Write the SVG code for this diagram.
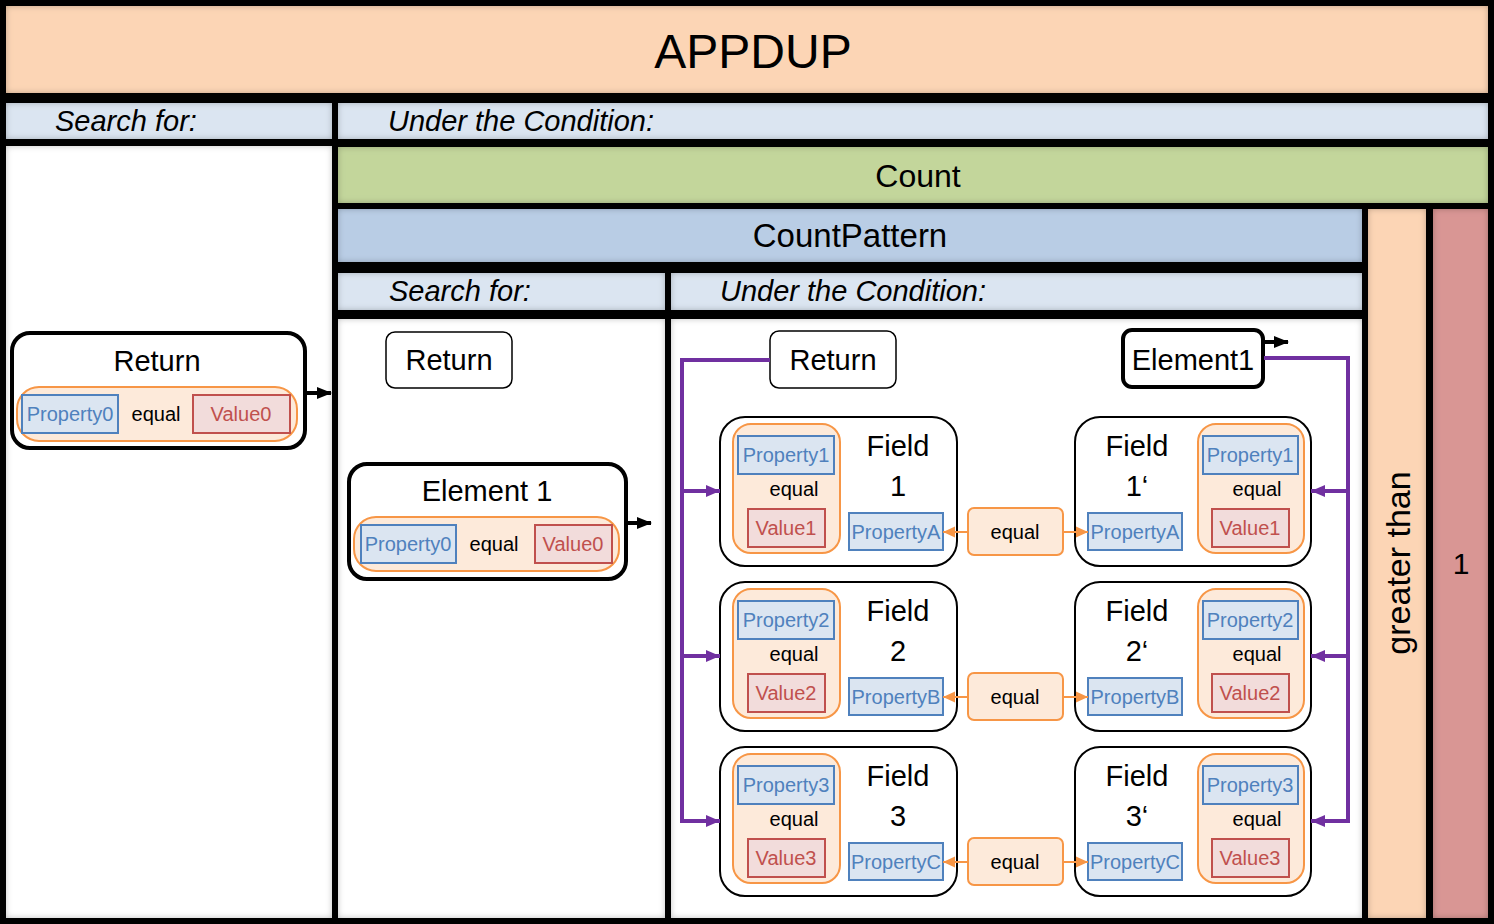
<svg xmlns="http://www.w3.org/2000/svg" width="1494" height="924" viewBox="0 0 1494 924">
<defs>
<filter id="inset" x="-50%" y="-50%" width="200%" height="200%">
<feFlood flood-color="#000" flood-opacity="0.5" result="f"/>
<feComposite in="f" in2="SourceAlpha" operator="out" result="o"/>
<feGaussianBlur in="o" stdDeviation="3" result="b"/>
<feComposite in="b" in2="SourceAlpha" operator="in" result="s"/>
<feMerge><feMergeNode in="SourceGraphic"/><feMergeNode in="s"/></feMerge>
</filter>
<marker id="ab" markerUnits="userSpaceOnUse" markerWidth="16" markerHeight="16" refX="14" refY="8" orient="auto"><path d="M0,2 L15,8 L0,14 Z" fill="#000"/></marker>
<marker id="ap" markerUnits="userSpaceOnUse" markerWidth="16" markerHeight="16" refX="14" refY="8" orient="auto"><path d="M0,2 L14,8 L0,14 Z" fill="#7030A0"/></marker>
<marker id="ao" markerUnits="userSpaceOnUse" markerWidth="14" markerHeight="14" refX="12" refY="7" orient="auto"><path d="M0,1.5 L12,7 L0,12.5 Z" fill="#F79646"/></marker>
</defs>
<style>
text{font-family:"Liberation Sans",Arial,sans-serif;fill:#000}
.pnl{filter:url(#inset)}
.it{font-style:italic;font-size:29px}
.t29{font-size:29px}
.t20{font-size:20px}
.c{text-anchor:middle}
.pill{fill:#FDEADA;stroke:#F79646;stroke-width:2}
.pb{fill:#DBE5F1;stroke:#4F81BD;stroke-width:2}
.vb{fill:#F2DCDB;stroke:#C0504D;stroke-width:2}
.pt{fill:#4F81BD;font-size:20px;text-anchor:middle}
.vt{fill:#C0504D;font-size:20px;text-anchor:middle}
.fb{fill:#fff;stroke:#000;stroke-width:2}
.pur{fill:none;stroke:#7030A0;stroke-width:4}
.blk{fill:none;stroke:#000;stroke-width:4}
.org{fill:none;stroke:#F79646;stroke-width:2}
</style>
<rect x="0" y="0" width="1494" height="924" fill="#000"/>

<g id="panels">
<rect class="pnl" x="6" y="6" width="1482" height="87" fill="#FCD5B5"/>
<rect class="pnl" x="6" y="103" width="326" height="36" fill="#DBE5F1"/>
<rect class="pnl" x="338" y="103" width="1150" height="36" fill="#DBE5F1"/>
<rect class="pnl" x="6" y="146" width="326" height="772" fill="#FFFFFF"/>
<rect class="pnl" x="338" y="147" width="1150" height="56" fill="#C3D69B"/>
<rect class="pnl" x="338" y="209" width="1024" height="53" fill="#B9CDE5"/>
<rect class="pnl" x="1368" y="209" width="58" height="709" fill="#FCD5B5"/>
<rect class="pnl" x="1433" y="209" width="55" height="709" fill="#D99694"/>
<rect class="pnl" x="338" y="273" width="327" height="37" fill="#DBE5F1"/>
<rect class="pnl" x="671" y="273" width="691" height="37" fill="#DBE5F1"/>
<rect class="pnl" x="338" y="319" width="327" height="599" fill="#FFFFFF"/>
<rect class="pnl" x="671" y="319" width="691" height="599" fill="#FFFFFF"/>
</g>

<g id="labels">
<text x="753" y="68" class="c" style="font-size:48px">APPDUP</text>
<text x="55" y="131" class="it">Search for:</text>
<text x="388" y="131" class="it">Under the Condition:</text>
<text x="918" y="187" class="c" style="font-size:32px">Count</text>
<text x="850" y="247" class="c" style="font-size:33px">CountPattern</text>
<text x="389" y="301" class="it">Search for:</text>
<text x="720" y="301" class="it">Under the Condition:</text>
<text transform="translate(1410,563) rotate(-90)" x="0" y="0" class="c" style="font-size:34px">greater than</text>
<text x="1461" y="574" class="c" style="font-size:30px">1</text>
</g>

<g id="return-outer">
<rect x="12" y="333" width="293" height="115" rx="18" fill="#fff" stroke="#000" stroke-width="4"/>
<text x="157" y="371" class="t29 c">Return</text>
<rect x="17" y="387" width="280" height="54" rx="22" class="pill"/>
<rect x="22" y="395" width="96" height="38" class="pb"/>
<text x="70" y="421" class="pt">Property0</text>
<text x="156" y="421" class="t20 c">equal</text>
<rect x="193" y="395" width="97" height="38" class="vb"/>
<text x="241" y="421" class="vt">Value0</text>
</g>

<g id="return-mid">
<rect x="386" y="332" width="126" height="56" rx="9" fill="#fff" stroke="#000" stroke-width="1.5"/>
<text x="449" y="370" class="t29 c">Return</text>
</g>

<g id="element1-mid">
<rect x="349" y="464" width="277" height="115" rx="18" fill="#fff" stroke="#000" stroke-width="4"/>
<text x="487" y="501" class="t29 c">Element 1</text>
<rect x="354" y="517" width="265" height="54" rx="22" class="pill"/>
<rect x="361" y="525" width="95" height="38" class="pb"/>
<text x="408" y="551" class="pt">Property0</text>
<text x="494" y="551" class="t20 c">equal</text>
<rect x="535" y="525" width="77" height="38" class="vb"/>
<text x="573" y="551" class="vt">Value0</text>
</g>

<g id="return-inner">
<rect x="770" y="331" width="126" height="57" rx="9" fill="#fff" stroke="#000" stroke-width="1.5"/>
<text x="833" y="370" class="t29 c">Return</text>
</g>

<g id="element1-inner">
<rect x="1123" y="330" width="140" height="57" rx="9" fill="#fff" stroke="#000" stroke-width="4"/>
<text x="1193" y="370" class="t29 c">Element1</text>
</g>

<g id="field1">
<rect x="720" y="417" width="237" height="149" rx="25" class="fb"/>
<rect x="733" y="424" width="107" height="129" rx="18" class="pill"/>
<rect x="738" y="436" width="96" height="38" class="pb"/>
<text x="786" y="462" class="pt">Property1</text>
<text x="794" y="496" class="t20 c">equal</text>
<rect x="748" y="509" width="77" height="38" class="vb"/>
<text x="786" y="535" class="vt">Value1</text>
<text x="898" y="456" class="t29 c">Field</text>
<text x="898" y="496" class="t29 c">1</text>
<rect x="849" y="513" width="94" height="37" class="pb"/>
<text x="896" y="539" class="pt">PropertyA</text>
</g>
<g id="equal1">
<rect x="968" y="508" width="95" height="47" rx="6" class="pill"/>
<text x="1015" y="539" class="t20 c">equal</text>
</g>
<g id="field1p">
<rect x="1075" y="417" width="236" height="149" rx="25" class="fb"/>
<text x="1137" y="456" class="t29 c">Field</text>
<text x="1137" y="496" class="t29 c">1‘</text>
<rect x="1088" y="513" width="94" height="37" class="pb"/>
<text x="1135" y="539" class="pt">PropertyA</text>
<rect x="1198" y="424" width="106" height="129" rx="18" class="pill"/>
<rect x="1203" y="436" width="95" height="38" class="pb"/>
<text x="1250" y="462" class="pt">Property1</text>
<text x="1257" y="496" class="t20 c">equal</text>
<rect x="1212" y="509" width="77" height="38" class="vb"/>
<text x="1250" y="535" class="vt">Value1</text>
</g>

<g id="field2" transform="translate(0,165)">
<rect x="720" y="417" width="237" height="149" rx="25" class="fb"/>
<rect x="733" y="424" width="107" height="129" rx="18" class="pill"/>
<rect x="738" y="436" width="96" height="38" class="pb"/>
<text x="786" y="462" class="pt">Property2</text>
<text x="794" y="496" class="t20 c">equal</text>
<rect x="748" y="509" width="77" height="38" class="vb"/>
<text x="786" y="535" class="vt">Value2</text>
<text x="898" y="456" class="t29 c">Field</text>
<text x="898" y="496" class="t29 c">2</text>
<rect x="849" y="513" width="94" height="37" class="pb"/>
<text x="896" y="539" class="pt">PropertyB</text>
</g>
<g id="equal2" transform="translate(0,165)">
<rect x="968" y="508" width="95" height="47" rx="6" class="pill"/>
<text x="1015" y="539" class="t20 c">equal</text>
</g>
<g id="field2p" transform="translate(0,165)">
<rect x="1075" y="417" width="236" height="149" rx="25" class="fb"/>
<text x="1137" y="456" class="t29 c">Field</text>
<text x="1137" y="496" class="t29 c">2‘</text>
<rect x="1088" y="513" width="94" height="37" class="pb"/>
<text x="1135" y="539" class="pt">PropertyB</text>
<rect x="1198" y="424" width="106" height="129" rx="18" class="pill"/>
<rect x="1203" y="436" width="95" height="38" class="pb"/>
<text x="1250" y="462" class="pt">Property2</text>
<text x="1257" y="496" class="t20 c">equal</text>
<rect x="1212" y="509" width="77" height="38" class="vb"/>
<text x="1250" y="535" class="vt">Value2</text>
</g>

<g id="field3" transform="translate(0,330)">
<rect x="720" y="417" width="237" height="149" rx="25" class="fb"/>
<rect x="733" y="424" width="107" height="129" rx="18" class="pill"/>
<rect x="738" y="436" width="96" height="38" class="pb"/>
<text x="786" y="462" class="pt">Property3</text>
<text x="794" y="496" class="t20 c">equal</text>
<rect x="748" y="509" width="77" height="38" class="vb"/>
<text x="786" y="535" class="vt">Value3</text>
<text x="898" y="456" class="t29 c">Field</text>
<text x="898" y="496" class="t29 c">3</text>
<rect x="849" y="513" width="94" height="37" class="pb"/>
<text x="896" y="539" class="pt">PropertyC</text>
</g>
<g id="equal3" transform="translate(0,330)">
<rect x="968" y="508" width="95" height="47" rx="6" class="pill"/>
<text x="1015" y="539" class="t20 c">equal</text>
</g>
<g id="field3p" transform="translate(0,330)">
<rect x="1075" y="417" width="236" height="149" rx="25" class="fb"/>
<text x="1137" y="456" class="t29 c">Field</text>
<text x="1137" y="496" class="t29 c">3‘</text>
<rect x="1088" y="513" width="94" height="37" class="pb"/>
<text x="1135" y="539" class="pt">PropertyC</text>
<rect x="1198" y="424" width="106" height="129" rx="18" class="pill"/>
<rect x="1203" y="436" width="95" height="38" class="pb"/>
<text x="1250" y="462" class="pt">Property3</text>
<text x="1257" y="496" class="t20 c">equal</text>
<rect x="1212" y="509" width="77" height="38" class="vb"/>
<text x="1250" y="535" class="vt">Value3</text>
</g>

<g id="connectors">
<path class="blk" d="M305,393 H331" marker-end="url(#ab)"/>
<path class="blk" d="M627,523 H651" marker-end="url(#ab)"/>
<path class="blk" d="M1265,342 H1288" marker-end="url(#ab)"/>
<path class="pur" d="M770,360 H682 V821 H720" marker-end="url(#ap)"/>
<path class="pur" d="M682,491 H720" marker-end="url(#ap)"/>
<path class="pur" d="M682,656 H720" marker-end="url(#ap)"/>
<path class="pur" d="M1264,358 H1348 V821 H1311" marker-end="url(#ap)"/>
<path class="pur" d="M1348,491 H1311" marker-end="url(#ap)"/>
<path class="pur" d="M1348,656 H1311" marker-end="url(#ap)"/>
<path class="org" d="M968,532 H943" marker-end="url(#ao)"/>
<path class="org" d="M1063,532 H1088" marker-end="url(#ao)"/>
<path class="org" d="M968,697 H943" marker-end="url(#ao)"/>
<path class="org" d="M1063,697 H1088" marker-end="url(#ao)"/>
<path class="org" d="M968,862 H943" marker-end="url(#ao)"/>
<path class="org" d="M1063,862 H1088" marker-end="url(#ao)"/>
</g>
</svg>
